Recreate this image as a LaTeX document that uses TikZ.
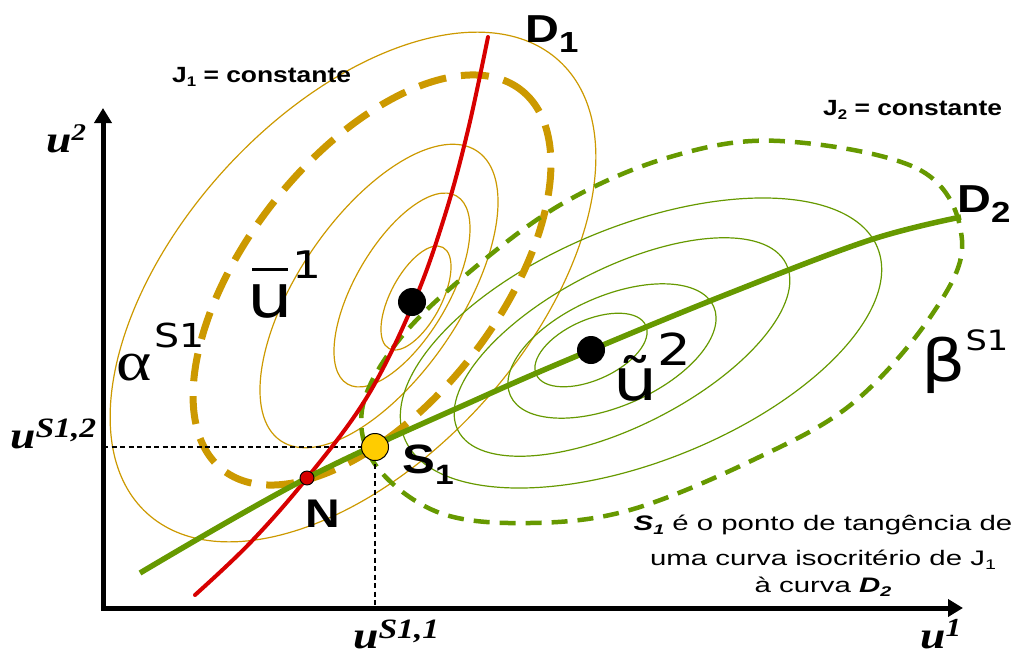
\documentclass[tikz,border=0pt]{standalone}
\usepackage{fontspec}
\usetikzlibrary{arrows.meta}
\newfontfamily\ars[FakeStretch=1.2]{Liberation Sans}
\newfontfamily\arw[FakeStretch=1.4]{Liberation Sans}
\newfontfamily\dvs[FakeStretch=1.2]{DejaVu Sans}
\newfontfamily\tms[FakeStretch=1.2]{Liberation Serif}
\newcommand\fs[1]{\fontsize{#1}{#1}\selectfont}
\newcommand\lowsub[3]{{\fs{#1}\raisebox{-#2pt}{#3}}}
\newcommand\hisup[3]{{\fs{#1}\raisebox{#2pt}{#3}}}
\definecolor{jone}{RGB}{204,153,0}
\definecolor{jtwo}{RGB}{102,153,0}
\definecolor{dred}{RGB}{215,0,0}
\definecolor{sy}{RGB}{255,204,0}
\pgfdeclarelayer{bg}
\pgfsetlayers{bg,main}
\begin{document}
\begin{tikzpicture}[x=1pt,y=-1pt,
  lbl/.style={inner sep=0pt, anchor=base west},
  txt/.style={inner sep=0pt, anchor=base, font=\arw\fs{21}},
  isoa/.style={draw=jone, line width=1.2pt},
  isob/.style={draw=jtwo, line width=1.2pt},
  isoadash/.style={draw=jone, line width=7pt, dash pattern=on 28pt off 15pt},
  isobdash/.style={draw=jtwo, line width=4.5pt, dash pattern=on 16pt off 10pt},
  axisline/.style={line width=5pt, line join=miter, {Triangle[length=15pt,width=17pt]}-{Triangle[length=15pt,width=17pt]}},
  guide/.style={line width=1.3pt, dash pattern=on 5pt off 3.5pt},
  dotb/.style={circle, fill=black, inner sep=0pt, minimum size=28pt},
  spt/.style={circle, fill=sy, draw=black, line width=1pt, inner sep=0pt, minimum size=27pt},
  npt/.style={circle, fill=dred, draw=black, line width=0.9pt, inner sep=0pt, minimum size=14pt},
  bu/.style={lbl, font=\tms\bfseries\itshape\fs{38}}
]
\useasboundingbox (0,0) rectangle (1023,656);

% axes
\coordinate (O) at (103,608);
\coordinate (ytop) at (103,108);
\coordinate (xend) at (963,608);
\draw[axisline] (ytop) -- (O) -- (xend);

% points
\node[dotb] (ubar) at (412,302) {};
\node[dotb] (utl) at (591,350) {};
\node[spt] (S1) at (375,447) {};
\node[npt] (N) at (307,478) {};

\begin{pgfonlayer}{bg}
% J1 iso-curves
\draw[isoa, rotate around={47.7:(353,287)}] (353,287) ellipse [x radius=306, y radius=174];
\draw[isoa, rotate around={55.8:(379,296)}] (379,296) ellipse [x radius=175, y radius=81];
\draw[isoa, rotate around={59.9:(402,290)}] (402,290) ellipse [x radius=108.7, y radius=47];
\draw[isoa, rotate around={62:(416,298)}] (416,298) ellipse [x radius=57.3, y radius=25.4];
% J2 iso-curves
\draw[isob, rotate around={24.2:(591,350)}] (591,350) ellipse [x radius=60, y radius=30];
\draw[isob, rotate around={23.6:(612,351)}] (612,351) ellipse [x radius=111, y radius=55];
\draw[isob, rotate around={27:(622,347)}] (622,347) ellipse [x radius=184, y radius=79];
\draw[isob, rotate around={21.9:(641,343)}] (641,343) ellipse [x radius=255, y radius=118];
% dashed iso-curves
\draw[isoadash, rotate around={51.8:(372,280)}] (372,280) ellipse [x radius=241.5, y radius=125.4];
\draw[isobdash] plot[smooth cycle, tension=0.6] coordinates {(780,141) (920,170) (962,240) (933,313) (853,403) (753,460) (630,510) (530,523) (440,513) (377,467) (362,410) (395,345) (460,280) (560,205) (670,157)};
% guides
\draw[guide] (ytop |- S1) -- (S1.center);
\draw[guide] (S1.center) -- (S1 |- O);
% D1
\draw[dred, line width=4pt, line cap=round] plot[smooth, tension=0.6] coordinates {(195,595) (250,543) (N.center) (367,397) (414,302) (445,215) (468,130) (488,37)};
% D2
\draw[jtwo, line width=5.5pt] plot[smooth, tension=0.6] coordinates {(140,573) (N.center) (480,398) (utl.center) (730,293) (870,240) (961,217)};
\end{pgfonlayer}

% labels
\node[lbl, font=\ars\bfseries\fs{22}] (j1) at (172,82) {J\lowsub{14}{4}{1} = constante};
\node[lbl, font=\ars\bfseries\fs{22}] (j2) at (823,115) {J\lowsub{14}{4}{2} = constante};
\node[lbl, font=\ars\bfseries\fs{39}] (d1) at (525,42) {D\lowsub{29}{10}{1}};
\node[lbl, font=\ars\bfseries\fs{39}] (d2) at (957,212) {D\lowsub{29}{10}{2}};
\node[lbl, font=\ars\bfseries\fs{40}] (nl) at (305,527) {N};
\node[lbl, font=\ars\bfseries\fs{41}] (sl) at (402,473) {S\lowsub{28}{11}{1}};
\node[lbl, font=\dvs\fs{60}] (ubl) at (247,317) {\rlap{\hspace{5pt}\rule[46pt]{36pt}{3pt}}u\hisup{38}{39}{1}};
\node[lbl, font=\dvs\fs{58}] (utll) at (613,400) {ũ\hisup{44}{35}{2}};
\node[lbl, font=\tms\fs{56}] (al) at (116,380) {α\hspace{3pt}{\dvs\hisup{33}{33}{S1}}};
\node[lbl, font=\dvs\fs{58}] (bl) at (921,381) {β\hisup{28}{31}{S1}};
\node[bu] (u2) at (46,152) {u\hisup{24}{12}{2}};
\node[bu] (us2) at (10,448) {u\hisup{28}{11}{S1,2}};
\node[bu] (us1) at (353,648) {u\hisup{28}{10}{S1,1}};
\node[bu] (u1) at (920,648) {u\hisup{26}{12}{1}};
% note
\node[txt] (t1) at (823,530) {{\bfseries\itshape S\lowsub{14}{4}{1}} é o ponto de tangência de};
\node[txt] (t2) at (823,565) {uma curva isocritério de J\lowsub{14}{4}{1}};
\node[txt] (t3) at (823,592) {à curva {\bfseries\itshape D\lowsub{14}{4}{2}}};
\end{tikzpicture}
\end{document}
